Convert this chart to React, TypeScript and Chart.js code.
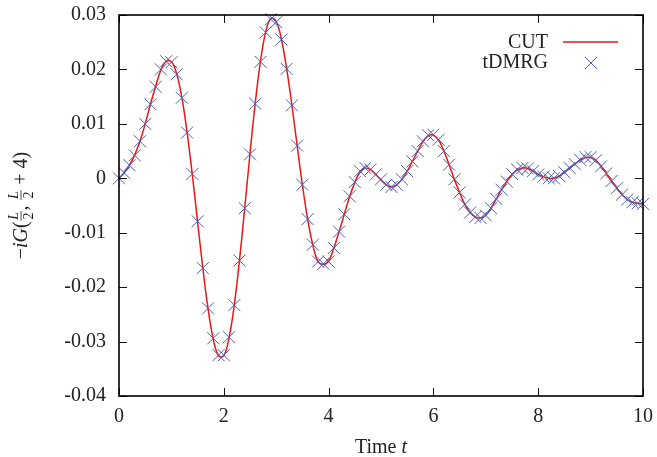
import React, { useEffect, useRef } from "react";
import { Chart, registerables } from "chart.js";

Chart.register(...registerables);

const timeValues = [
  0, 0.1, 0.2, 0.3, 0.4, 0.5, 0.6, 0.7, 0.8, 0.9,
  1, 1.1, 1.2, 1.3, 1.4, 1.5, 1.6, 1.7, 1.8, 1.9,
  2, 2.1, 2.2, 2.3, 2.4, 2.5, 2.6, 2.7, 2.8, 2.9,
  3, 3.1, 3.2, 3.3, 3.4, 3.5, 3.6, 3.7, 3.8, 3.9,
  4, 4.1, 4.2, 4.3, 4.4, 4.5, 4.6, 4.7, 4.8, 4.9,
  5, 5.1, 5.2, 5.3, 5.4, 5.5, 5.6, 5.7, 5.8, 5.9,
  6, 6.1, 6.2, 6.3, 6.4, 6.5, 6.6, 6.7, 6.8, 6.9,
  7, 7.1, 7.2, 7.3, 7.4, 7.5, 7.6, 7.7, 7.8, 7.9,
  8, 8.1, 8.2, 8.3, 8.4, 8.5, 8.6, 8.7, 8.8, 8.9,
  9, 9.1, 9.2, 9.3, 9.4, 9.5, 9.6, 9.7, 9.8, 9.9,
  10,
];

const tdmrgValues = [
  0, 0.001, 0.0024, 0.0042, 0.0068, 0.01, 0.0136, 0.0168, 0.02, 0.0215,
  0.0213, 0.0191, 0.0148, 0.0084, 0.0008, -0.0079, -0.0165, -0.0239, -0.0294, -0.0325,
  -0.0325, -0.0292, -0.0233, -0.0151, -0.0055, 0.0044, 0.0137, 0.0214, 0.0268, 0.0292,
  0.0287, 0.0255, 0.0201, 0.0134, 0.006, -0.0012, -0.0075, -0.0122, -0.0153, -0.0157,
  -0.0153, -0.0128, -0.0098, -0.0066, -0.0033, -0.0007, 0.0013, 0.0019, 0.0016, 0.0007,
  -0.0002, -0.0012, -0.0016, -0.0012, -0.0002, 0.0013, 0.0031, 0.005, 0.0068, 0.0079,
  0.008, 0.0071, 0.005, 0.0025, -0.0002, -0.0026, -0.0048, -0.0063, -0.0071, -0.0073,
  -0.0068, -0.0055, -0.0038, -0.0021, -0.0006, 0.0008, 0.0016, 0.0019, 0.0018, 0.0013,
  0.0007, 0.0003, 0.0, 0.0, 0.0004, 0.0011, 0.0019, 0.0026, 0.0034, 0.0039,
  0.0039, 0.0033, 0.0022, 0.0009, -0.0005, -0.0018, -0.003, -0.0039, -0.0044, -0.0046,
  -0.0047,
];

const cutValues = [
  0, 0.001, 0.0024, 0.0043, 0.0068, 0.01, 0.0136, 0.0169, 0.0199, 0.0215,
  0.0214, 0.0192, 0.0148, 0.0084, 0.0006, -0.008, -0.0165, -0.024, -0.0296, -0.0326,
  -0.0326, -0.0293, -0.0233, -0.015, -0.0054, 0.0045, 0.0138, 0.0215, 0.0269, 0.0294,
  0.0288, 0.0255, 0.0201, 0.0134, 0.006, -0.0012, -0.0075, -0.0123, -0.0153, -0.0158,
  -0.0152, -0.0128, -0.0098, -0.0066, -0.0034, -0.0008, 0.0012, 0.0019, 0.0016, 0.0007,
  -0.0003, -0.0012, -0.0016, -0.0012, -0.0002, 0.0013, 0.0031, 0.005, 0.0067, 0.0078,
  0.0079, 0.007, 0.005, 0.0025, -0.0002, -0.0026, -0.0048, -0.0063, -0.0071, -0.0073,
  -0.0068, -0.0055, -0.0038, -0.0021, -0.0006, 0.0007, 0.0015, 0.0019, 0.0018, 0.0013,
  0.0007, 0.0003, 0.0, 0.0, 0.0004, 0.0011, 0.0019, 0.0026, 0.0033, 0.0038,
  0.0038, 0.0033, 0.0022, 0.0009, -0.0005, -0.0018, -0.003, -0.0039, -0.0044, -0.0046,
  -0.0047,
];

const xTickValues = [0, 2, 4, 6, 8, 10];
const yTickValues = [-0.04, -0.03, -0.02, -0.01, 0, 0.01, 0.02, 0.03];
const seriesLabels = ["CUT", "tDMRG"];

const SERIF = '"Liberation Serif", "DejaVu Serif", serif';
const RED = "rgb(236, 22, 22)";
const BLUE = "rgb(74, 94, 182)";
const TEXT = "#222";

function fmtY(v: number): string {
  const r = Math.round(v * 100) / 100;
  if (r === 0) return "0";
  return r.toFixed(2);
}

const decorPlugin = {
  id: "decor",
  afterDraw(chart: any) {
    const { ctx, chartArea: a, scales } = chart;
    const x = scales.x;
    const y = scales.y;
    ctx.save();
    // inward ticks
    ctx.strokeStyle = "#111";
    ctx.lineWidth = 1;
    const tl = 8;
    ctx.beginPath();
    for (const t of xTickValues) {
      const px = Math.round(x.getPixelForValue(t)) + 0.5;
      ctx.moveTo(px, a.bottom);
      ctx.lineTo(px, a.bottom - tl);
      ctx.moveTo(px, a.top);
      ctx.lineTo(px, a.top + tl);
    }
    for (const v of yTickValues) {
      const py = Math.round(y.getPixelForValue(v)) + 0.5;
      ctx.moveTo(a.left, py);
      ctx.lineTo(a.left + tl, py);
      ctx.moveTo(a.right, py);
      ctx.lineTo(a.right - tl, py);
    }
    ctx.stroke();
    // frame
    ctx.lineWidth = 1.6;
    ctx.strokeStyle = "#000";
    ctx.strokeRect(a.left, a.top, a.right - a.left, a.bottom - a.top);

    // legend
    ctx.fillStyle = TEXT;
    ctx.font = `20px ${SERIF}`;
    ctx.textAlign = "right";
    ctx.textBaseline = "alphabetic";
    const lx = a.right - 95;
    ctx.fillText(seriesLabels[0], lx, a.top + 33);
    ctx.fillText(seriesLabels[1], lx, a.top + 53);
    ctx.strokeStyle = RED;
    ctx.lineWidth = 1.5;
    ctx.beginPath();
    ctx.moveTo(a.right - 80, a.top + 27);
    ctx.lineTo(a.right - 25, a.top + 27);
    ctx.stroke();
    ctx.strokeStyle = BLUE;
    ctx.lineWidth = 1;
    const cx = a.right - 52;
    const cy = a.top + 48;
    const h = 6;
    ctx.beginPath();
    ctx.moveTo(cx - h, cy - h);
    ctx.lineTo(cx + h, cy + h);
    ctx.moveTo(cx - h, cy + h);
    ctx.lineTo(cx + h, cy - h);
    ctx.stroke();

    // x title: "Time t"
    ctx.fillStyle = TEXT;
    ctx.textAlign = "left";
    const fMain = `20px ${SERIF}`;
    const fItal = `italic 20px ${SERIF}`;
    ctx.font = fMain;
    const w1 = ctx.measureText("Time ").width;
    ctx.font = fItal;
    const w2 = ctx.measureText("t").width;
    const xc = (a.left + a.right) / 2;
    const xs = xc - (w1 + w2) / 2;
    ctx.font = fMain;
    ctx.fillText("Time ", xs, 453);
    ctx.font = fItal;
    ctx.fillText("t", xs + w1, 453);

    // y title: −iG(L/2, L/2 + 4) with fractions
    const fSmall = `14px ${SERIF}`;
    const fSmallIt = `italic 14px ${SERIF}`;
    type Piece = { kind: "text"; t: string; f: string } | { kind: "frac"; n: string; d: string };
    const pieces: Piece[] = [
      { kind: "text", t: "\u2212", f: fMain },
      { kind: "text", t: "i", f: fItal },
      { kind: "text", t: "G", f: fItal },
      { kind: "text", t: "(", f: fMain },
      { kind: "frac", n: "L", d: "2" },
      { kind: "text", t: ", ", f: fMain },
      { kind: "frac", n: "L", d: "2" },
      { kind: "text", t: " + 4)", f: fMain },
    ];
    const widths = pieces.map((p) => {
      if (p.kind === "text") {
        ctx.font = p.f;
        return ctx.measureText(p.t).width;
      }
      ctx.font = fSmallIt;
      const wn = ctx.measureText(p.n).width;
      ctx.font = fSmall;
      const wd = ctx.measureText(p.d).width;
      return Math.max(wn, wd) + 3;
    });
    const total = widths.reduce((s, w) => s + w, 0);
    ctx.translate(21, (a.top + a.bottom) / 2);
    ctx.rotate(-Math.PI / 2);
    let px = -total / 2;
    const base = 6;
    pieces.forEach((p, i) => {
      const w = widths[i];
      if (p.kind === "text") {
        ctx.font = p.f;
        ctx.textAlign = "left";
        ctx.fillText(p.t, px, base);
      } else {
        ctx.textAlign = "center";
        ctx.font = fSmallIt;
        ctx.fillText(p.n, px + w / 2, base - 9);
        ctx.font = fSmall;
        ctx.fillText(p.d, px + w / 2, base + 6);
        ctx.strokeStyle = TEXT;
        ctx.lineWidth = 0.8;
        ctx.beginPath();
        ctx.moveTo(px + 0.5, base - 6);
        ctx.lineTo(px + w - 0.5, base - 6);
        ctx.stroke();
      }
      px += w;
    });
    ctx.restore();
  },
};

export default function App() {
  const ref = useRef<HTMLCanvasElement | null>(null);
  useEffect(() => {
    if (!ref.current) return;
    const chart = new Chart(ref.current, {
      type: "line",
      data: {
        datasets: [
          {
            label: seriesLabels[1],
            data: timeValues.map((t, i) => ({ x: t, y: tdmrgValues[i] })),
            showLine: false,
            pointStyle: "crossRot",
            pointRadius: 8.5,
            pointHoverRadius: 8.5,
            borderColor: BLUE,
            backgroundColor: BLUE,
            pointBorderWidth: 1,
            borderWidth: 1,
            clip: false as any,
            order: 0,
          },
          {
            label: seriesLabels[0],
            data: timeValues.map((t, i) => ({ x: t, y: cutValues[i] })),
            borderColor: RED,
            borderWidth: 1.5,
            pointRadius: 0,
            tension: 0.4,
            fill: false,
            order: 1,
          },
        ],
      },
      options: {
        animation: false,
        responsive: false,
        devicePixelRatio: 1,
        events: [],
        layout: { padding: { top: 15, right: 14, left: 0, bottom: 0 } },
        plugins: {
          legend: { display: false },
          tooltip: { enabled: false },
          title: { display: false },
        },
        scales: {
          x: {
            type: "linear",
            min: 0,
            max: 10,
            afterBuildTicks: (s: any) => {
              s.ticks = xTickValues.map((v) => ({ value: v }));
            },
            afterFit: (s: any) => {
              s.height = 61;
              s.paddingLeft = 0;
              s.paddingRight = 0;
            },
            grid: { display: false, drawTicks: false, tickLength: 0 },
            border: { display: false },
            ticks: {
              color: TEXT,
              font: { family: SERIF, size: 20 },
              padding: 9,
              maxRotation: 0,
              autoSkip: false,
              callback: (v: any) => String(v),
            },
          },
          y: {
            type: "linear",
            min: -0.04,
            max: 0.03,
            afterBuildTicks: (s: any) => {
              s.ticks = yTickValues.map((v) => ({ value: v }));
            },
            afterFit: (s: any) => {
              s.width = 119;
              s.paddingTop = 0;
              s.paddingBottom = 0;
            },
            grid: { display: false, drawTicks: false, tickLength: 0 },
            border: { display: false },
            ticks: {
              color: TEXT,
              font: { family: SERIF, size: 20 },
              padding: 13,
              autoSkip: false,
              callback: (v: any) => fmtY(Number(v)),
            },
          },
        },
      },
      plugins: [decorPlugin],
    });
    return () => chart.destroy();
  }, []);
  return (
    <div style={{ position: "fixed", left: 0, top: 0, width: 657, height: 457, background: "#fff" }}>
      <canvas ref={ref} width={657} height={457} />
    </div>
  );
}
